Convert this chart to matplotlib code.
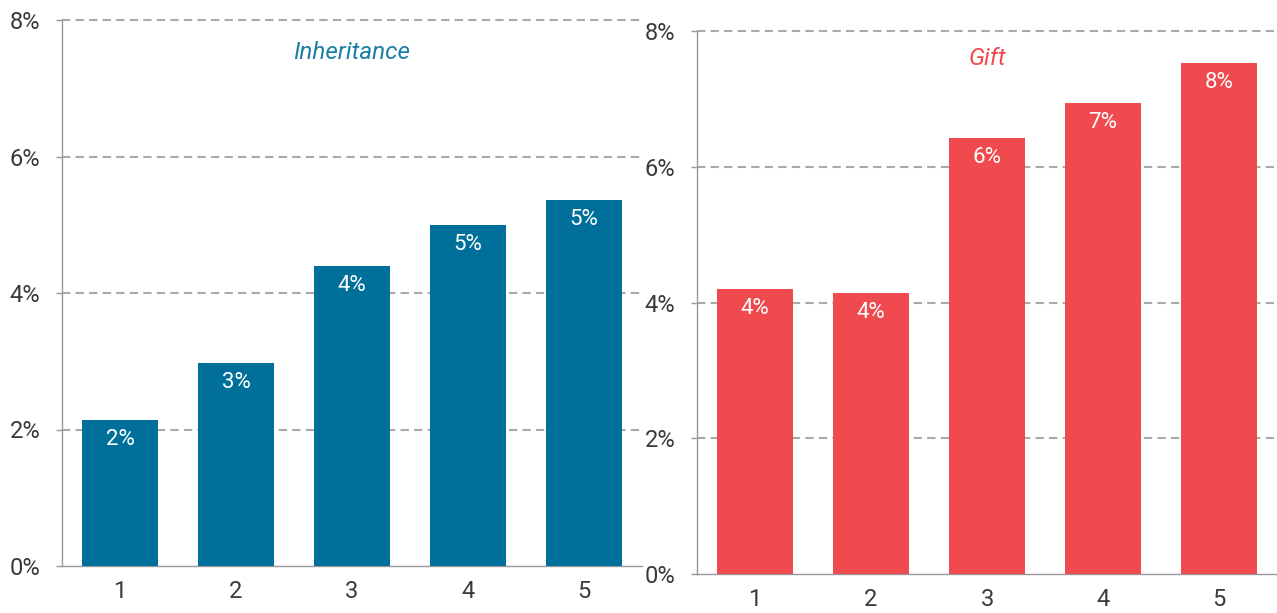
import matplotlib.pyplot as plt

quintiles = [1, 2, 3, 4, 5]
inheritance = [2.14, 2.97, 4.40, 5.00, 5.36]
gift = [4.20, 4.14, 6.42, 6.94, 7.53]
yticks = [0, 2, 4, 6, 8]

plt.rcParams['font.family'] = ['Roboto', 'DejaVu Sans']

fig = plt.figure(figsize=(12.77, 6.13), dpi=100)
ax1 = fig.add_axes([62 / 1277, 47 / 613, 580 / 1277, 546 / 613])
ax2 = fig.add_axes([697 / 1277, 39 / 613, 580 / 1277, 543 / 613])


def draw_panel(ax, values, color, title, title_color, title_y):
    bars = ax.bar(quintiles, values, width=0.66, color=color, zorder=3)
    ax.set_xlim(0.5, 5.5)
    ax.set_ylim(0, 8)
    ax.set_yticks(yticks)
    ax.set_yticklabels([f"{t}%" for t in yticks])
    ax.set_xticks(quintiles)
    ax.set_xticklabels([str(q) for q in quintiles])
    for t in yticks[1:]:
        ax.axhline(t, color="#aaaaaa", lw=1.5, ls=(0, (4, 2.5)), zorder=1, clip_on=False)
    for s in ["top", "right"]:
        ax.spines[s].set_visible(False)
    for s in ["left", "bottom"]:
        ax.spines[s].set_color("#999999")
        ax.spines[s].set_linewidth(1)
    ax.tick_params(axis="y", length=4.5, width=1, color="#999999", pad=11,
                   labelsize=17, labelcolor="#3a3a3a")
    ax.tick_params(axis="x", length=0, pad=10, labelsize=17, labelcolor="#3a3a3a")
    for b, v in zip(bars, values):
        ax.annotate(f"{round(v):.0f}%", (b.get_x() + b.get_width() / 2, v),
                    xytext=(0, -14), textcoords="offset points",
                    ha="center", va="center", color="white", fontsize=16,
                    zorder=4)
    ax.text(0.5, title_y, title, transform=ax.transAxes, ha="center", va="center",
            fontsize=17.5, style="italic", color=title_color)


draw_panel(ax1, inheritance, "#00709b", "Inheritance", "#1b7ea6", 0.941)
draw_panel(ax2, gift, "#ef4b4e", "Gift", "#ef4b4e", 0.950)

fig.savefig("out.png", dpi=100)
